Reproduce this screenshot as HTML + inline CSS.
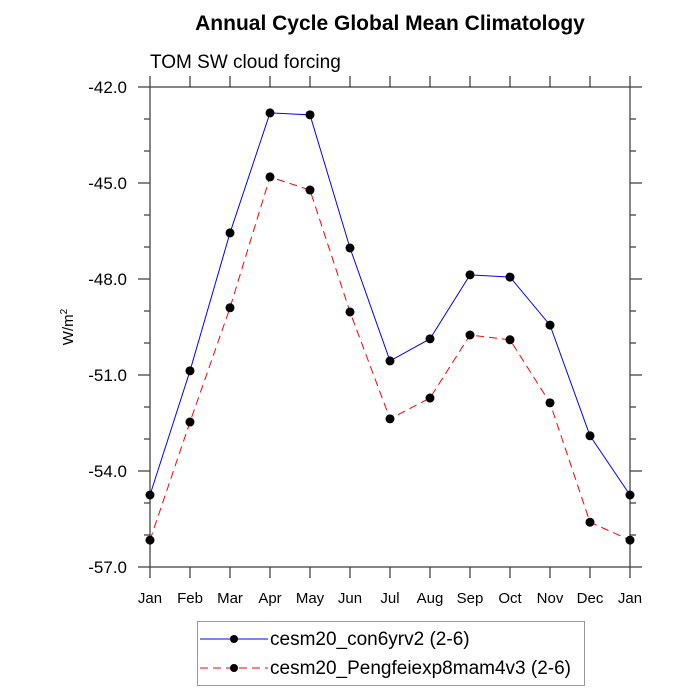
<!DOCTYPE html>
<html><head><meta charset="utf-8"><style>body{margin:0;background:#fff}svg{display:block;font-family:"Liberation Sans",sans-serif}</style></head>
<body>
<svg id="c" width="700" height="700">
<text x="390" y="30" text-anchor="middle" font-size="21" font-weight="bold">Annual Cycle Global Mean Climatology</text>
<text x="150" y="68" font-size="19">TOM SW cloud forcing</text>
<text transform="translate(73,327) rotate(-90)" text-anchor="middle" font-size="15">W/m<tspan dy="-6" font-size="10">2</tspan></text>
<g id="axes"></g><g id="series"></g>
<g>
<rect x="197.5" y="621.5" width="387" height="64" fill="#fff" stroke="#999"/>
<g>
<line x1="200" y1="639" x2="268" y2="639" stroke="#00f" stroke-width="1"/><circle cx="234" cy="639" r="4" fill="#000"/>
<text x="270" y="645" font-size="19">cesm20_con6yrv2 (2-6)</text></g>
<g>
<line x1="200" y1="668" x2="268" y2="668" stroke="#f00" stroke-dasharray="8,5"/><circle cx="234" cy="668" r="4" fill="#000"/>
<text x="270" y="674" font-size="19">cesm20_Pengfeiexp8mam4v3 (2-6)</text></g>
</g>
</svg>
<script>
const months=["Jan","Feb","Mar","Apr","May","Jun","Jul","Aug","Sep","Oct","Nov","Dec","Jan"];
const con6yrv2=[-54.75,-50.87,-46.56,-42.81,-42.87,-47.03,-50.56,-49.87,-47.87,-47.94,-49.44,-52.9,-54.75];
const pengfei=[-56.16,-52.47,-48.9,-44.81,-45.22,-49.03,-52.37,-51.72,-49.75,-49.9,-51.87,-55.6,-56.16];
const yTicks=[-42,-45,-48,-51,-54,-57];
const yMin=-57,yMax=-42;
const L=150,R=630,T=87,B=567;
const X=i=>L+i*(R-L)/(months.length-1);
const Y=v=>B-(v-yMin)/(yMax-yMin)*(B-T);
const NS="http://www.w3.org/2000/svg";
function mk(p,t,a){const e=document.createElementNS(NS,t);for(const k in a)e.setAttribute(k,a[k]);p.appendChild(e);return e;}
const ax=document.getElementById('axes');
const fr=mk(ax,'rect',{x:L,y:T,width:R-L,height:B-T,fill:'none',stroke:'#444','stroke-width':1.3});


months.forEach((m,i)=>{const x=X(i);
mk(ax,'line',{x1:x,y1:B,x2:x,y2:B+11,stroke:'#444','stroke-width':1.3});
mk(ax,'line',{x1:x,y1:T,x2:x,y2:T-11,stroke:'#444','stroke-width':1.3});
const t=mk(ax,'text',{x:x,y:B+36,'text-anchor':'middle','font-size':15});t.textContent=m;

});
for(let v=yMin;v<=yMax;v++){const y=Y(v);const maj=yTicks.includes(v);const l=maj?12:6;
mk(ax,'line',{x1:L,y1:y,x2:L-l,y2:y,stroke:'#444','stroke-width':1.3});
mk(ax,'line',{x1:R,y1:y,x2:R+l,y2:y,stroke:'#444','stroke-width':1.3});}
yTicks.forEach(v=>{const t=mk(ax,'text',{x:L-23,y:Y(v)+6,'text-anchor':'end','font-size':17});t.textContent=v.toFixed(1);

});
const sg=document.getElementById('series');
function draw(d,col,dash,name){const g=mk(sg,'g',{});


const a={points:d.map((v,i)=>X(i)+','+Y(v)).join(' '),fill:'none',stroke:col,'stroke-width':1};if(dash)a['stroke-dasharray']=dash;mk(g,'polyline',a);
d.forEach((v,i)=>{const c=mk(g,'circle',{cx:X(i),cy:Y(v),r:4.5,fill:'#000'});

});}
draw(con6yrv2,'#00f',null,'series-con6yrv2');
draw(pengfei,'#f00','8,5','series-pengfei');
</script>
</body></html>
